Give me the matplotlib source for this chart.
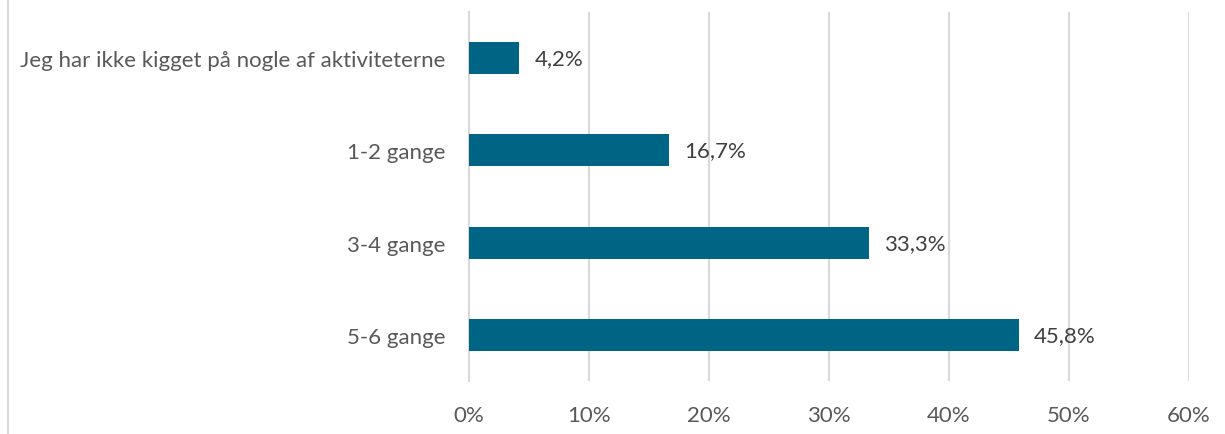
import matplotlib
matplotlib.use("Agg")
import matplotlib.pyplot as plt
from matplotlib.lines import Line2D

categories = ["Jeg har ikke kigget på nogle af aktiviteterne", "1-2 gange", "3-4 gange", "5-6 gange"]
values = [4.2, 16.7, 33.3, 45.8]
xticks = [0, 10, 20, 30, 40, 50, 60]

plt.rcParams['font.family'] = ['Lato', 'DejaVu Sans']
W, H = 1225, 435
fig = plt.figure(figsize=(W/100, H/100), dpi=100)
ax = fig.add_axes([469/W, 1-382/H, (1189-469)/W, (382-13)/H])

FS = 16
y = list(range(len(categories)))
ax.barh(y, values, height=0.345, color="#006584", zorder=3)
ax.set_ylim(len(categories)-0.5, -0.5)
ax.set_xlim(0, 60)
ax.set_xticks(xticks)
ax.set_xticklabels([f"{t}%" for t in xticks], fontsize=FS, color="#595959")
ax.set_yticks(y)
ax.set_yticklabels(categories, fontsize=FS, color="#595959")
ax.tick_params(axis='both', length=0)
ax.tick_params(axis='x', pad=17)
ax.tick_params(axis='y', pad=17)
ax.grid(axis='x', color="#d9d9d9", linewidth=1.5, zorder=0)
for s in ['top', 'right', 'bottom']:
    ax.spines[s].set_visible(False)
ax.spines['left'].set_color("#d9d9d9")
ax.spines['left'].set_linewidth(1.5)

for yi, v in zip(y, values):
    ax.annotate(f"{v:.1f}%".replace(".", ","), (v, yi), xytext=(11, 0),
                textcoords="offset points", va="center", ha="left",
                fontsize=FS, color="#404040", zorder=4)

fig.add_artist(Line2D([7.5/W, 7.5/W], [0, 1], color="#d9d9d9", linewidth=1.5))

fig.savefig("out.png", dpi=100, facecolor="white")
